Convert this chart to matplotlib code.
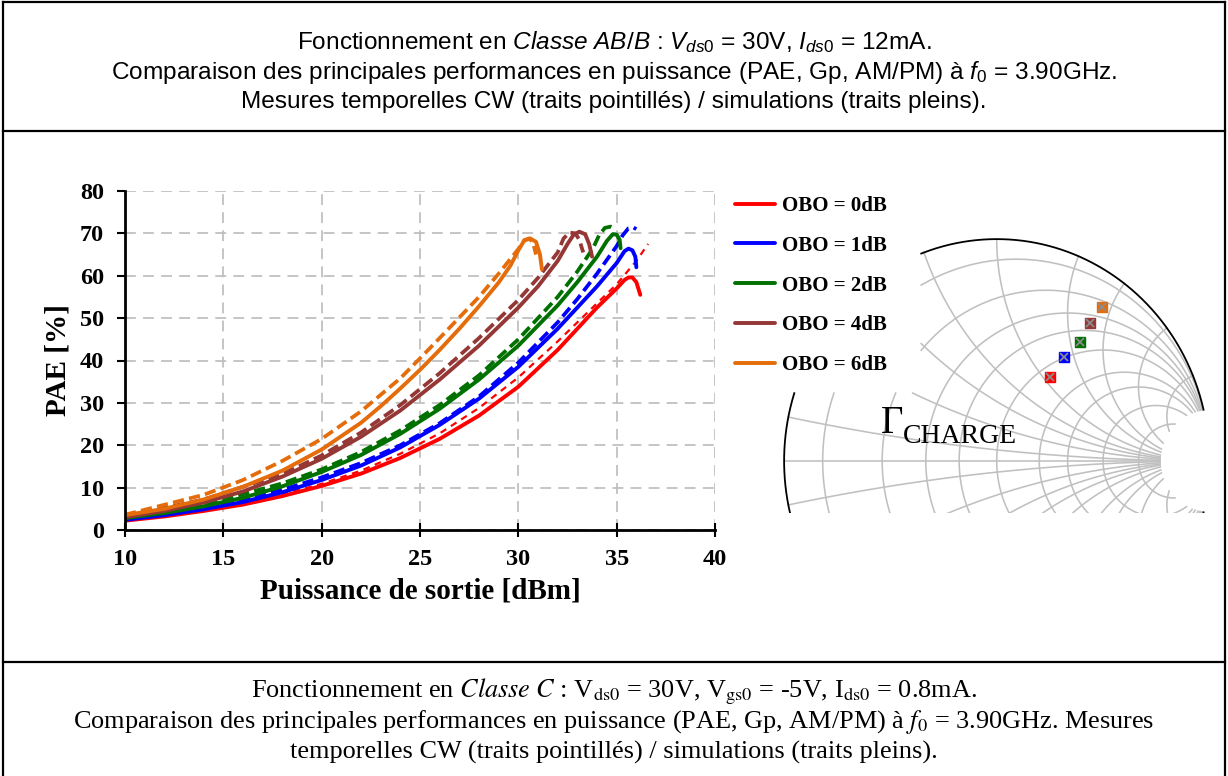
import numpy as np
import matplotlib
matplotlib.use("Agg")
import matplotlib.pyplot as plt
from matplotlib.lines import Line2D

plt.rcParams['mathtext.fontset'] = 'custom'
plt.rcParams['mathtext.rm'] = 'Liberation Sans'
plt.rcParams['mathtext.it'] = 'Liberation Sans:italic'

# ---- data (Pout in dBm, PAE in %) ----
legend_labels = ['OBO = 0dB', 'OBO = 1dB', 'OBO = 2dB', 'OBO = 4dB', 'OBO = 6dB']
curve_colors = ['#ff0000', '#0000ff', '#007000', '#953735', '#e46c0a']

# simulations (solid)
sim0_x = [10, 12, 14, 16, 18, 20, 22, 24, 26, 28, 30, 32, 34, 35, 35.4, 35.6, 35.8, 36.0, 36.1, 36.2]
sim0_y = [2.2, 3.2, 4.5, 6.0, 8.0, 10.4, 13.3, 17.0, 21.5, 27.0, 33.8, 42.5, 52.5, 57.0, 59.0, 59.6, 59.6, 58.5, 57.0, 55.5]
sim1_x = [10, 12, 14, 16, 18, 20, 22, 24, 26, 28, 30, 32, 34, 35, 35.4, 35.6, 35.8, 35.95, 36.0]
sim1_y = [2.4, 3.5, 4.9, 6.6, 8.9, 11.8, 15.2, 19.5, 24.8, 31.0, 38.5, 47.5, 57.5, 63.0, 65.8, 66.4, 66.0, 64.5, 62.0]
sim2_x = [10, 12, 14, 16, 18, 20, 22, 24, 26, 28, 30, 32, 33, 34, 34.5, 34.8, 35.0, 35.15, 35.2]
sim2_y = [2.8, 4.0, 5.6, 7.6, 10.3, 13.7, 17.7, 22.7, 28.6, 35.5, 43.5, 53.0, 58.5, 64.5, 68.2, 69.8, 69.7, 68.5, 66.5]
sim4_x = [10, 12, 14, 16, 18, 20, 22, 24, 26, 28, 30, 31, 32, 32.5, 32.8, 33.1, 33.4, 33.6, 33.75]
sim4_y = [3.0, 4.5, 6.5, 9.1, 12.6, 16.8, 22.0, 28.2, 35.5, 43.5, 52.5, 57.5, 63.5, 67.5, 69.6, 70.4, 69.8, 67.5, 64.5]
sim6_x = [10, 12, 14, 16, 18, 20, 22, 23, 24, 25, 26, 27, 28, 29, 29.6, 30.0, 30.3, 30.6, 30.9, 31.1, 31.2]
sim6_y = [3.5, 5.0, 7.2, 10.2, 14.0, 19.0, 25.3, 29.2, 33.4, 37.8, 42.5, 47.5, 52.8, 58.4, 62.4, 66.0, 68.3, 68.8, 68.0, 65.0, 61.5]

# CW measurements (dashed)
mes0_x = [10, 14, 18, 20, 22, 24, 26, 28, 30, 32, 34, 35, 36, 36.6]
mes0_y = [2.3, 4.7, 8.4, 10.9, 14.0, 18.0, 22.8, 28.8, 36.0, 44.5, 53.5, 58.0, 63.5, 67.5]
mes1_x = [10, 14, 18, 20, 22, 24, 26, 28, 30, 32, 33, 34, 35, 35.3, 35.6, 35.85, 36.0]
mes1_y = [2.6, 5.2, 9.5, 12.4, 15.8, 20.0, 25.2, 31.5, 39.5, 49.0, 54.5, 60.5, 67.0, 69.5, 71.2, 71.4, 71.0]
mes2_x = [10, 14, 18, 20, 22, 24, 26, 28, 30, 32, 33, 33.8, 34.1, 34.4, 34.7, 34.85]
mes2_y = [3.0, 5.9, 11.0, 14.3, 18.4, 23.5, 29.5, 36.5, 45.0, 55.0, 61.0, 66.5, 69.5, 71.3, 71.6, 71.3]
mes4_x = [10, 14, 18, 20, 22, 24, 26, 28, 30, 31, 32, 32.3, 32.6, 32.9, 33.1, 33.3]
mes4_y = [3.2, 7.2, 13.2, 17.6, 23.0, 29.5, 37.0, 45.3, 54.3, 59.5, 65.5, 68.8, 70.2, 70.0, 68.5, 65.5]
mes6_x = [10, 14, 16, 18, 20, 22, 24, 25, 26, 28, 29, 30, 30.3, 30.55, 30.75, 30.9]
mes6_y = [3.6, 8.3, 11.8, 16.3, 21.5, 28.0, 35.8, 40.5, 45.3, 55.0, 60.5, 66.3, 68.4, 68.8, 67.8, 65.0]

# load reflection coefficients (Smith chart markers)
gamma_re = [0.251, 0.316, 0.392, 0.439, 0.494]
gamma_im = [0.377, 0.467, 0.536, 0.623, 0.692]

smith_r = [0.1, 0.3, 0.5, 0.7, 1, 1.5, 2, 3, 5]
smith_x = [0.1, 0.3, 0.5, 0.7, 1, 1.5, 2, 3, 5]

W, H = 1228, 776
fig = plt.figure(figsize=(W / 100, H / 100), dpi=100)


def fx(px):
    return px / W


def fy(py):
    return 1 - py / H


# ---- frame lines ----
for (x0, y0, x1, y1) in [(3, 2, 1225, 2), (3, 131, 1225, 131), (3, 662, 1225, 662),
                         (3, 2, 3, 776), (1225, 2, 1225, 776)]:
    fig.add_artist(Line2D([fx(x0), fx(x1)], [fy(y0), fy(y1)], color='black', lw=1.6))

# ---- titles ----
top_lines = [r'Fonctionnement en $\mathit{Classe\ AB/B}$ : $V_{ds0}$ = 30V, $I_{ds0}$ = 12mA.',
             r'Comparaison des principales performances en puissance (PAE, Gp, AM/PM) à $f_0$ = 3.90GHz.',
             'Mesures temporelles CW (traits pointillés) / simulations (traits pleins).']
for i, s in enumerate(top_lines):
    fig.text(0.5, fy(42 + 30 * i), s, ha='center', va='center', fontsize=17.6,
             family='Liberation Sans')

bot_lines = [r'Fonctionnement en $\mathit{Classe\ C}$ : V$_{\mathrm{ds0}}$ = 30V, V$_{\mathrm{gs0}}$ = -5V, I$_{\mathrm{ds0}}$ = 0.8mA.',
             r'Comparaison des principales performances en puissance (PAE, Gp, AM/PM) à $f_0$ = 3.90GHz. Mesures',
             'temporelles CW (traits pointillés) / simulations (traits pleins).']
for i, s in enumerate(bot_lines):
    fig.text(0.5, fy(692 + 30 * i), s, ha='center', va='center', fontsize=18.9,
             family='Liberation Serif', math_fontfamily='stix')

# ---- PAE plot ----
ax = fig.add_axes([fx(125), fy(530), fx(715) - fx(125), fy(191) - fy(530)])
sims = [(sim0_x, sim0_y), (sim1_x, sim1_y), (sim2_x, sim2_y), (sim4_x, sim4_y), (sim6_x, sim6_y)]
mess = [(mes0_x, mes0_y), (mes1_x, mes1_y), (mes2_x, mes2_y), (mes4_x, mes4_y), (mes6_x, mes6_y)]
handles = []
for i, c in enumerate(curve_colors):
    if i == 0:
        ax.plot(*mess[i], color=c, lw=1.6, dashes=(3, 2.5), solid_joinstyle='round')
    else:
        ax.plot(*mess[i], color=c, lw=2.7, dashes=(3, 1.4), solid_joinstyle='round')
    h, = ax.plot(*sims[i], color=c, lw=2.8, solid_capstyle='round', solid_joinstyle='round')
    handles.append(h)

ax.set_xlim(10, 40)
ax.set_ylim(0, 80)
ax.set_xticks(range(10, 41, 5))
ax.set_yticks(range(0, 81, 10))
ax.grid(True, color='#c0c0c0', lw=1.3, dashes=(6, 4))
ax.set_axisbelow(True)
for s in ['top', 'right']:
    ax.spines[s].set_visible(False)
for s in ['left', 'bottom']:
    ax.spines[s].set_linewidth(2)
ax.tick_params(axis='y', direction='out', length=6, width=1.5, pad=9)
ax.tick_params(axis='x', direction='inout', length=10, width=1.5, pad=9)
for lab in ax.get_xticklabels() + ax.get_yticklabels():
    lab.set_fontfamily('Liberation Serif')
    lab.set_fontweight('bold')
    lab.set_fontsize(17.5)
ax.set_xlabel('Puissance de sortie [dBm]', fontsize=21, fontweight='bold',
              family='Liberation Serif', labelpad=5)
ax.set_ylabel('PAE [%]', fontsize=21, fontweight='bold', family='Liberation Serif',
              labelpad=6)

# ---- Smith chart ----
sx = 212.7  # px per unit of gamma (horizontal)
sy = 222.0  # px per unit of gamma (vertical)
gx0, gy0 = 996.7, 461.0
axs = fig.add_axes([fx(gx0 - 1.02 * sx), fy(513), 2.04 * sx / W, (1.02 * sy + 52) / H])
axs.set_xlim(-1.02, 1.02)
axs.set_ylim(-52 / sy, 1.02)
axs.axis('off')


def masked(gx, gy):
    ok = (gx ** 2 + gy ** 2 <= 1.0005) & ((gx - 1) ** 2 + gy ** 2 >= 0.232 ** 2)
    ok &= ~((gx < -0.355) & (gy > 0.306))
    gx = np.where(ok, gx, np.nan)
    gy = np.where(ok, gy, np.nan)
    return gx, gy


t = np.linspace(0, 2 * np.pi, 6000)
grid_kw = dict(color='#c0c0c0', lw=1.15)
for r in smith_r:
    cx, rad = r / (1 + r), 1 / (1 + r)
    axs.plot(*masked(cx + rad * np.cos(t), rad * np.sin(t)), **grid_kw)
tt = np.linspace(0, 2 * np.pi, 60000)
for xv in smith_x:
    for sgn in (1, -1):
        axs.plot(*masked(1 + (1 / xv) * np.cos(tt), sgn / xv + (1 / xv) * np.sin(tt)), **grid_kw)
ll = np.linspace(-1, 1, 500)
axs.plot(*masked(ll, np.zeros_like(ll)), **grid_kw)
axs.plot(*masked(0.9995 * np.cos(t), 0.9995 * np.sin(t)), color='black', lw=1.3)

for gr, gi, c in zip(gamma_re, gamma_im, curve_colors):
    axs.plot(gr, gi, marker='s', ms=7, color=c, ls='none')
    axs.plot(gr, gi, marker='x', ms=6, mew=1.3, color='#8c8c8c', ls='none')

fig.text(fx(881), fy(433), '\u0393', fontsize=28, family='Liberation Serif', va='baseline')
fig.text(fx(903), fy(443), 'CHARGE', fontsize=20, family='Liberation Serif', va='baseline')

# ---- legend ----
fig.legend(handles, legend_labels, loc='upper left', bbox_to_anchor=(fx(735), fy(196)),
           frameon=False, handlelength=1.9, handletextpad=0.35, labelspacing=0.95,
           borderpad=0, borderaxespad=0,
           prop={'family': 'Liberation Serif', 'weight': 'bold', 'size': 15})

fig.savefig('out.png', dpi=100)
